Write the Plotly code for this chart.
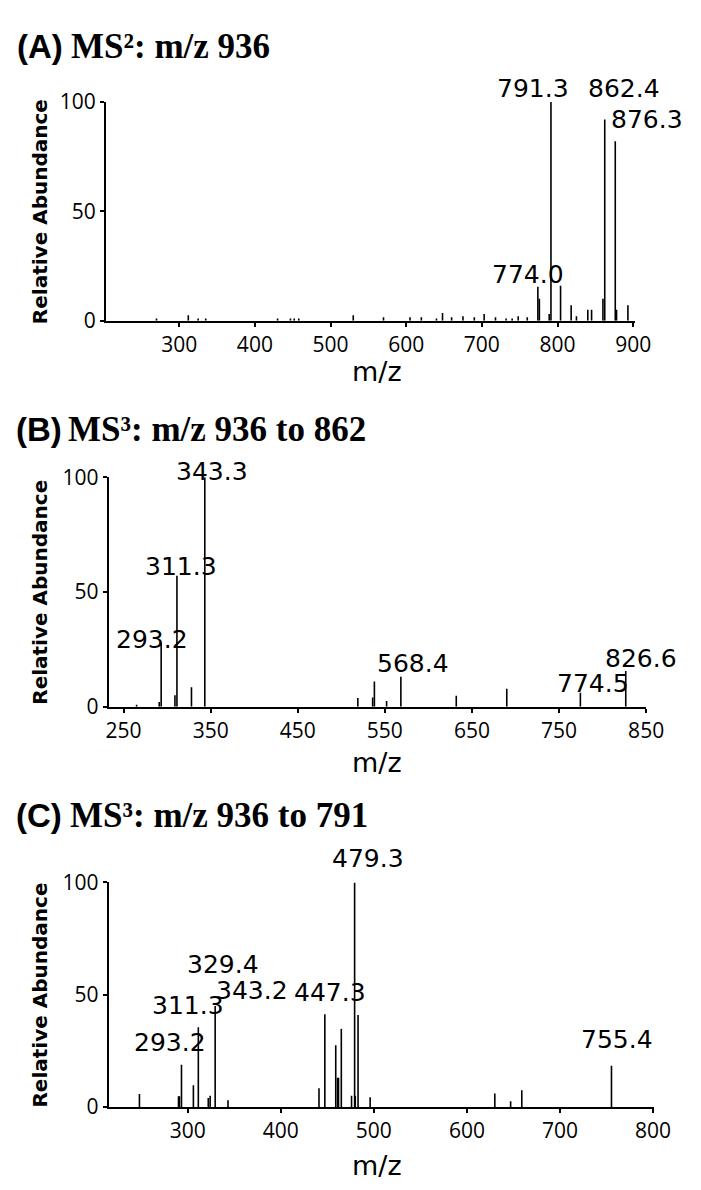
import plotly.graph_objects as go

# ---------------- data ----------------
# Panel A: MS2 of m/z 936
a_mz = [270, 312, 325, 335, 430, 447, 452, 458, 530, 570, 605, 620, 640, 648, 660,
        675, 690, 703, 718, 732, 740, 748, 760, 774.0, 776, 789, 791.3, 804, 818,
        825, 840, 845, 860, 862.4, 876.3, 878, 893]
a_int = [1, 2.5, 1, 1, 1, 1, 1, 1, 2.5, 1.5, 1.5, 1.5, 1, 3.5, 1.5,
         2, 1.5, 3, 1.5, 1, 1, 2, 1.5, 15.5, 10, 3, 100, 16, 7,
         2, 5, 5, 10, 92, 82, 5, 7]
a_labels = ["791.3", "862.4", "876.3", "774.0"]

# Panel B: MS3 936 -> 862
b_mz = [265, 291, 293.2, 309, 311.3, 328, 343.3, 519, 536, 538, 552, 568.4,
        632, 690, 774.5, 826.6]
b_int = [0.8, 2, 28, 5, 57, 8.5, 100, 3.8, 4, 11, 2.5, 13,
         4.7, 7.8, 6, 15.5]
b_labels = ["343.3", "311.3", "293.2", "568.4", "774.5", "826.6"]

# Panel C: MS3 936 -> 791
c_mz = [248, 290, 291, 293.2, 306, 311.3, 322, 324, 329.4, 343.2, 441, 447.3,
        459, 461, 462, 465, 476, 479.3, 480, 483, 496, 630, 647, 659, 755.4]
c_int = [5.8, 4.8, 4.8, 18.8, 9.7, 35.5, 4, 5, 45, 3, 8.3, 41.3,
         27.5, 13, 13, 34.8, 5, 100, 5, 41, 4.3, 6, 2.5, 7.5, 18.4]
c_labels = ["479.3", "329.4", "343.2", "447.3", "311.3", "293.2", "755.4"]

titles_tag = ["(A)", "(B)", "(C)"]
titles_txt = ["MS²: m/z 936", "MS³: m/z 936 to 862", "MS³: m/z 936 to 791"]
x_ticks = [[300, 400, 500, 600, 700, 800, 900],
           [250, 350, 450, 550, 650, 750, 850],
           [300, 400, 500, 600, 700, 800]]
y_ticks = [0, 50, 100]

# ---------------- layout helpers ----------------
W, H = 701, 1190
# pixel geometry of each panel: x pixels (left,right), y pixels (top=100, bottom=0), x range
panels = [
    dict(px=(106, 652), py=(89, 313), xr=[203, 903]),
    dict(px=(109, 663), py=(473.3, 708.3), xr=[233, 850]),
    dict(px=(109, 671), py=(888.3, 1118.3), xr=[215, 801]),
]
title_pos = [(12, 68, 32.5), (11, 65, 424), (11, 67, 819.5)]
mz_title_y = [365, 765, 1178]

# label pixel offsets (dx, dy up)
label_shift = {
    0: {"791.3": (-18, 13), "862.4": (19, 31), "876.3": (32, 22), "774.0": (-10, 12)},
    1: {"343.3": (7, 6), "311.3": (4, 9), "293.2": (-9, 3), "568.4": (12, 13),
        "774.5": (13, 9), "826.6": (15, 13)},
    2: {"479.3": (13, 24), "329.4": (8, 41), "343.2": (24, 110), "447.3": (5, 22),
        "311.3": (-10, 22), "293.2": (-11, 22), "755.4": (6, 26)},
}

TICK_FONT = dict(family="Open Sans, Liberation Sans, sans-serif", size=21, color="black")
LABEL_FONT = dict(family="DejaVu Sans, sans-serif", size=25, color="black")

fig = go.Figure()
series = [(a_mz, a_int, a_labels), (b_mz, b_int, b_labels), (c_mz, c_int, c_labels)]

annotations = []
for i, (mz, inten, labels) in enumerate(series):
    xs, ys = [], []
    for m, h in zip(mz, inten):
        xs += [m, m, None]
        ys += [0, h, None]
    sfx = "" if i == 0 else str(i + 1)
    fig.add_trace(go.Scatter(x=xs, y=ys, mode="lines",
                             line=dict(color="black", width=1.6),
                             xaxis="x" + sfx, yaxis="y" + sfx,
                             showlegend=False, hoverinfo="skip", cliponaxis=False))
    p = panels[i]
    xdom = [p["px"][0] / W, p["px"][1] / W]
    ydom = [1 - p["py"][1] / H, 1 - p["py"][0] / H]
    common = dict(showline=True, linecolor="black", linewidth=1.8,
                  ticks="outside", ticklen=4, tickwidth=1.5, tickcolor="black",
                  showgrid=False, zeroline=False, tickfont=TICK_FONT)
    fig.update_layout(**{
        "xaxis" + sfx: dict(domain=xdom, range=p["xr"], tickvals=x_ticks[i],
                            anchor="y" + sfx, **common),
        "yaxis" + sfx: dict(domain=ydom, range=[0, 100], tickvals=y_ticks,
                            anchor="x" + sfx, **common),
    })
    # peak labels
    lookup = dict(zip([f"{m:.1f}" for m in mz], inten))
    for lab in labels:
        dx, dy = label_shift[i][lab]
        annotations.append(dict(x=float(lab), y=lookup[lab], xref="x" + sfx, yref="y" + sfx,
                                text=lab, showarrow=False, xshift=dx, yshift=dy,
                                xanchor="center", yanchor="middle", font=LABEL_FONT,
                                borderpad=0))
    # panel titles
    tx1, tx2, ty = title_pos[i]
    annotations.append(dict(x=tx1 / W, y=1 - ty / H, xref="paper", yref="paper",
                            text="<b>" + titles_tag[i] + "</b>", showarrow=False,
                            xanchor="left", yanchor="middle",
                            font=dict(family="Liberation Sans, Arial, sans-serif", size=33, color="black")))
    annotations.append(dict(x=tx2 / W, y=1 - ty / H, xref="paper", yref="paper",
                            text="<b>" + titles_txt[i] + "</b>", showarrow=False,
                            xanchor="left", yanchor="middle",
                            font=dict(family="Liberation Serif, Times New Roman, serif", size=35, color="black")))
    # axis titles
    annotations.append(dict(x=38 / W, y=1 - (p["py"][0] + p["py"][1]) / 2 / H,
                            xref="paper", yref="paper", text="<b>Relative Abundance</b>",
                            textangle=-90, showarrow=False, xanchor="center", yanchor="middle",
                            font=dict(family="DejaVu Sans, sans-serif", size=20, color="black")))
    annotations.append(dict(x=386 / W, y=1 - mz_title_y[i] / H, xref="paper", yref="paper",
                            text="m/z", showarrow=False, xanchor="center", yanchor="middle",
                            font=dict(family="DejaVu Sans, sans-serif", size=27, color="black")))

fig.update_layout(width=W, height=H, margin=dict(l=0, r=0, t=0, b=0),
                  paper_bgcolor="white", plot_bgcolor="white",
                  annotations=annotations, showlegend=False)

fig.write_html("out.html")
